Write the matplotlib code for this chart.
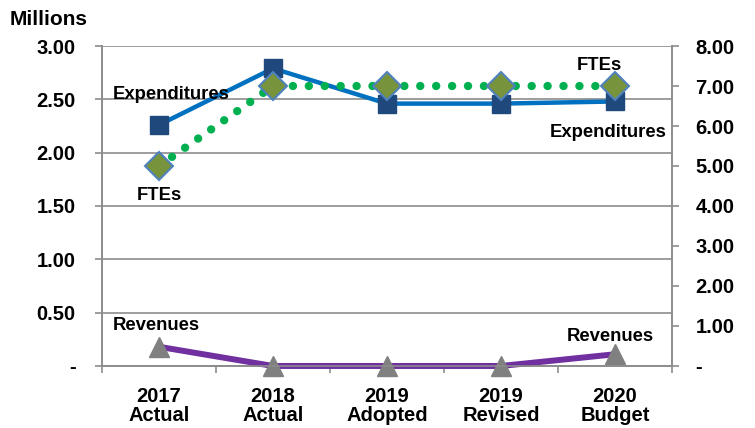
import matplotlib.pyplot as plt

plt.rcParams['font.family'] = ['Liberation Sans', 'DejaVu Sans']

categories = ['2017\nActual', '2018\nActual', '2019\nAdopted', '2019\nRevised', '2020\nBudget']
expenditures = [2.26, 2.79, 2.46, 2.46, 2.48]
revenues = [0.18, 0.0, 0.0, 0.0, 0.11]
ftes = [5.0, 7.0, 7.0, 7.0, 7.0]

left_ticks = [0, 0.5, 1.0, 1.5, 2.0, 2.5, 3.0]
left_labels = ['-', '0.50', '1.00', '1.50', '2.00', '2.50', '3.00']
right_ticks = [0, 1, 2, 3, 4, 5, 6, 7, 8]
right_labels = ['-', '1.00', '2.00', '3.00', '4.00', '5.00', '6.00', '7.00', '8.00']


def main():
    fig = plt.figure(figsize=(7.55, 4.28), dpi=100)
    ax = fig.add_axes([0.1351, 0.1449, 0.7549, 0.7476])
    x = list(range(len(categories)))
    grey = '#8c8c8c'
    fs = 14.5

    ax.plot(x, expenditures, color='#0070C0', lw=3.2, marker='s', ms=13,
            mfc='#1F497D', mec='#1F497D', zorder=3, clip_on=False)
    ax.plot(x, revenues, color='#7030A0', lw=4.3, marker='^', ms=14,
            mfc='#808080', mec='#808080', zorder=3, clip_on=False)

    ax.set_xlim(-0.5, 4.5)
    ax.set_ylim(0, 3)
    ax.set_yticks(left_ticks)
    ax.set_yticklabels(left_labels)
    ax.set_xticks(x)
    ax.set_xticklabels(categories, linespacing=1.0)
    ax.set_xticks([-0.5, 0.5, 1.5, 2.5, 3.5, 4.5], minor=True)
    ax.tick_params(axis='x', which='major', length=0, pad=15)
    ax.tick_params(axis='x', which='minor', length=5, color=grey, width=1.2)
    ax.tick_params(axis='y', length=5, color=grey, width=1.2, pad=14)
    for lab in ax.get_xticklabels() + ax.get_yticklabels():
        lab.set_fontweight('bold')
        lab.set_fontsize(fs)
    ax.grid(axis='y', color=grey, lw=1.2)
    for s in ['left', 'right', 'bottom', 'top']:
        ax.spines[s].set_color(grey)
        ax.spines[s].set_linewidth(1.2)
    ax.spines['top'].set_visible(False)

    ax2 = ax.twinx()
    ax2.plot(x, ftes, color='#00B050', lw=6, linestyle=(0, (0.01, 1.9)),
             dash_capstyle='round', marker='D', ms=14, mfc='#77933C',
             mec='#4F81BD', mew=1.5, zorder=4)
    ax2.set_ylim(0, 8)
    ax2.set_yticks(right_ticks)
    ax2.set_yticklabels(right_labels)
    ax2.tick_params(axis='y', length=5, color=grey, width=1.2, pad=12)
    for lab in ax2.get_yticklabels():
        lab.set_fontweight('bold')
        lab.set_fontsize(fs)
    for s in ['left', 'right', 'bottom', 'top']:
        ax2.spines[s].set_color(grey)
        ax2.spines[s].set_linewidth(1.2)
    ax2.spines['top'].set_visible(False)

    # series labels
    lbl = dict(fontsize=13.3, fontweight='bold', ha='center', va='center')
    ax.annotate('Expenditures', (0, expenditures[0]), xytext=(9, 22), textcoords='offset points', **lbl)
    ax.annotate('Expenditures', (4, expenditures[4]), xytext=(-5, -22), textcoords='offset points', **lbl)
    ax2.annotate('FTEs', (0, ftes[0]), xytext=(0, -21), textcoords='offset points', **lbl)
    ax2.annotate('FTEs', (4, ftes[4]), xytext=(-11, 15), textcoords='offset points', **lbl)
    ax.annotate('Revenues', (0, revenues[0]), xytext=(-2, 15), textcoords='offset points', **lbl)
    ax.annotate('Revenues', (4, revenues[4]), xytext=(-3, 13), textcoords='offset points', **lbl)

    fig.text(0.013, 0.955, 'Millions', fontsize=15, fontweight='bold', va='center')

    fig.savefig('out.png', dpi=100)


if __name__ == "__main__":
    main()
